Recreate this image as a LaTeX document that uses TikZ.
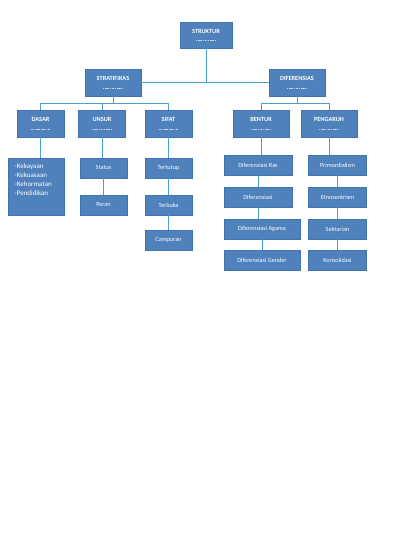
\documentclass[tikz,border=0pt]{standalone}
\usepackage{fontspec}
\setmainfont{Carlito}
\usetikzlibrary{shadows}
\definecolor{boxblue}{RGB}{79,129,189}
\definecolor{boxedge}{RGB}{68,114,170}
\definecolor{linkblue}{RGB}{75,160,205}
\begin{document}
\begin{tikzpicture}[x=1pt, y=-1pt,
  box/.style={rectangle, draw=boxedge, line width=0.4pt, fill=boxblue, text=white,
    drop shadow={shadow xshift=0.8pt, shadow yshift=-0.8pt, opacity=0.35}},
  head/.style={box, font=\fontsize{6.3}{7}\selectfont\bfseries, minimum height=27pt,
    text height=4.5pt, text depth=8.5pt, inner sep=0pt,
    path picture={\draw[white!65!boxblue, line width=0.5pt, dash pattern=on 1.2pt off 0.5pt]
      ([yshift=-5.5pt]path picture bounding box.center) ++(-10pt,0) -- ++(20pt,0);}},
  leaf/.style={box, font=\fontsize{6.2}{7}\selectfont, minimum height=20pt, inner sep=0pt},
  link/.style={draw=linkblue, line width=0.8pt}]
  \useasboundingbox (0,0) rectangle (400,550);
  % Levels
  \node[head, minimum width=52pt, minimum height=26pt] (struktur) at (206,35) {STRUKTUR};
  \node[head, minimum width=56pt] (strat) at (113,82.5) {STRATIFIKAS};
  \node[head, minimum width=56pt] (dif) at (297,82.5) {DIFERENSIAS};
  \node[head, minimum width=47pt] (dasar) at (40.5,123.5) {DASAR};
  \node[head, minimum width=47pt] (unsur) at (102,123.5) {UNSUR};
  \node[head, minimum width=47pt] (sifat) at (168.5,123.5) {SIFAT};
  \node[head, minimum width=56pt] (bentuk) at (261,123.5) {BENTUK};
  \node[head, minimum width=56pt] (pengaruh) at (329,123.5) {PENGARUH};
  % Leaves
  \node[box, minimum width=56pt, minimum height=57pt] (dasarbox) at (36,186.5) {};
  \node[anchor=north west, align=left, text=white, inner sep=0pt,
    font=\fontsize{7}{9}\selectfont] (dasarlist) at (14.5,163)
    {-Kekayaan\\-Kekuasaan\\-Kehormatan\\-Pendidikan};
  \node[leaf, minimum width=47pt] (status) at (103.5,168) {Status};
  \node[leaf, minimum width=47pt] (peran) at (103.5,205) {Peran};
  \node[leaf, minimum width=47pt] (tertutup) at (168.5,168) {Tertutup};
  \node[leaf, minimum width=47pt] (terbuka) at (168.5,205) {Terbuka};
  \node[leaf, minimum width=47pt] (campuran) at (168.5,240) {Campuran};
  \node[leaf, minimum width=68pt] (ras) at (258,165) {Diferensiasi Ras};
  \node[leaf, minimum width=68pt] (difs) at (258,197) {Diferensiasi};
  \node[leaf, minimum width=76pt] (agama) at (262,229) {Diferensiasi Agama};
  \node[leaf, minimum width=76pt] (gender) at (262,260.5) {Diferensiasi Gender};
  \node[leaf, minimum width=58pt] (primo) at (337.5,165) {Primordialism};
  \node[leaf, minimum width=58pt] (etno) at (337.5,197) {Etnosentrism};
  \node[leaf, minimum width=58pt] (sekt) at (337.5,229) {Sektarian};
  \node[leaf, minimum width=58pt] (konso) at (337.5,260.5) {Konsolidasi};
  % Connectors
  \coordinate (sbar) at (113,103.5);
  \coordinate (dbar) at (297,103.5);
  \draw[link] (struktur) -- (struktur |- strat.east);
  \draw[link] (strat) -- (dif);
  \draw[link] (strat) -- (sbar);
  \draw[link] (dasar.north) |- (sbar) -| (sifat.north);
  \draw[link] (unsur.north) -- (unsur |- sbar);
  \draw[link] (dif) -- (dbar);
  \draw[link] (bentuk.north) |- (dbar) -| (pengaruh.north);
  \draw[link] (dasar) -- (dasar |- dasarbox.north);
  \draw[link] (unsur) -- (unsur |- status.north);
  \draw[link] (status) -- (peran);
  \draw[link] (sifat) -- (tertutup);
  \draw[link] (tertutup) -- (terbuka);
  \draw[link] (terbuka) -- (campuran);
  \draw[link] (bentuk) -- (bentuk |- ras.north);
  \draw[link] (ras) -- (difs);
  \draw[link] (difs) -- (difs |- agama.north);
  \draw[link] (agama) -- (gender);
  \draw[link] (pengaruh) -- (pengaruh |- primo.north);
  \draw[link] (primo) -- (etno);
  \draw[link] (etno) -- (sekt);
  \draw[link] (sekt) -- (konso);
\end{tikzpicture}
\end{document}
